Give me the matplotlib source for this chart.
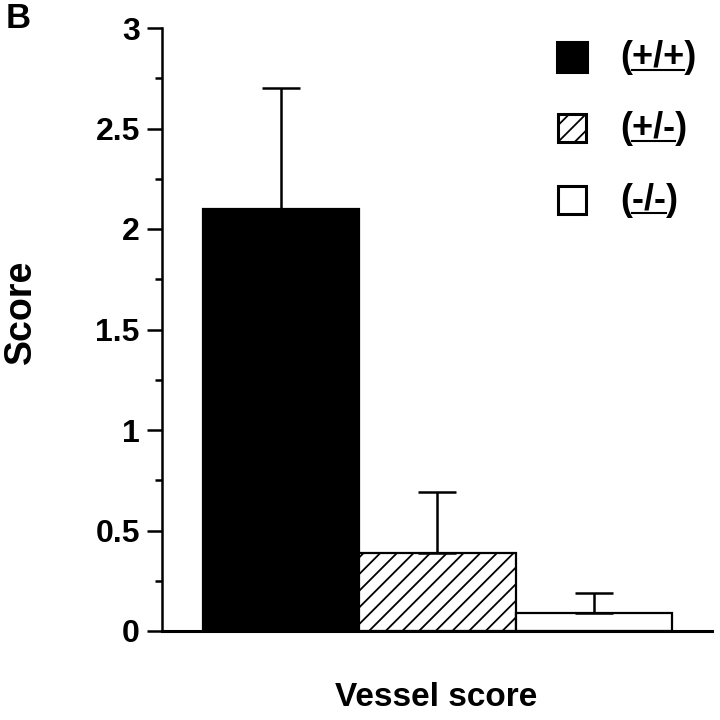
import numpy as np
import matplotlib
matplotlib.use("Agg")
import matplotlib.pyplot as plt
from matplotlib.patches import Rectangle
from matplotlib.lines import Line2D

plt.rcParams['font.family'] = ['Liberation Sans', 'DejaVu Sans']
plt.rcParams['font.weight'] = 'bold'
plt.rcParams['hatch.linewidth'] = 1.3

# data
genotypes = ['(+/+)', '(+/-)', '(-/-)']
scores = [2.1, 0.39, 0.09]
errors = [0.6, 0.3, 0.1]
y_ticks = [0, 0.5, 1, 1.5, 2, 2.5, 3]
y_ticklabels = ['0', '0.5', '1', '1.5', '2', '2.5', '3']
y_minor = [0.25, 0.75, 1.25, 1.75, 2.25, 2.75]

colors = ['black', 'white', 'white']
hatches = [None, '//', None]

W = H = 720
fig = plt.figure(figsize=(7.2, 7.2), dpi=100)
ax = fig.add_axes([162 / W, (H - 631) / H, (712 - 162) / W, (631 - 28) / H])

x = np.arange(len(scores))
ax.bar(x, scores, width=1.0, color=colors, edgecolor='black',
       linewidth=1.6, hatch=hatches, zorder=2)
ax.errorbar(x, scores, yerr=[np.zeros(len(errors)), errors], fmt='none',
            ecolor='black', elinewidth=1.8, capsize=14, capthick=1.8, zorder=3)

ax.set_xlim(-0.76, 2.755)
ax.set_ylim(0, 3)
ax.set_xticks([])
ax.set_yticks(y_ticks)
ax.set_yticklabels(y_ticklabels, fontsize=23, fontweight='bold')
ax.set_yticks(y_minor, minor=True)
ax.tick_params(axis='y', which='major', length=11, width=1.8, pad=5)
ax.tick_params(axis='y', which='minor', length=5, width=1.8)
for s in ['top', 'right']:
    ax.spines[s].set_visible(False)
ax.spines['left'].set_linewidth(1.8)
ax.spines['bottom'].set_linewidth(2.2)

fig.text(21 / W, 1 - 312 / H, 'Score', rotation=90, fontsize=27,
         fontweight='bold', ha='center', va='center')
fig.text(436 / W, 1 - 698 / H, 'Vessel score', fontsize=24,
         fontweight='bold', ha='center', va='center')
fig.text(6 / W, 1 - 19 / H, 'B', fontsize=25, fontweight='bold',
         ha='left', va='center')

# legend drawn by hand: squares plus underlined genotype labels
leg_y = [57, 128, 200]
sizes = [30, 28, 28]
fig.canvas.draw()
renderer = fig.canvas.get_renderer()
for lab, c, h, yy, sz in zip(genotypes, colors, hatches, leg_y, sizes):
    fig.add_artist(Rectangle(((572 - sz / 2) / W, 1 - (yy + sz / 2) / H),
                             sz / W, sz / H, transform=fig.transFigure,
                             facecolor=c, edgecolor='black', linewidth=2.2,
                             hatch=h))
    t = fig.text(620 / W, 1 - (yy + 10) / H, lab, fontsize=26,
                 fontweight='bold', ha='left', va='baseline')
    p = fig.text(0, 0, '(', fontsize=26, fontweight='bold', alpha=0)
    bb = t.get_window_extent(renderer)
    pw = p.get_window_extent(renderer).width
    ly = 1 - (yy + 13) / H
    fig.add_artist(Line2D([(bb.x0 + pw) / W, (bb.x1 - pw) / W], [ly, ly],
                          transform=fig.transFigure, color='black', lw=1.5))

fig.savefig('out.png', dpi=100)
